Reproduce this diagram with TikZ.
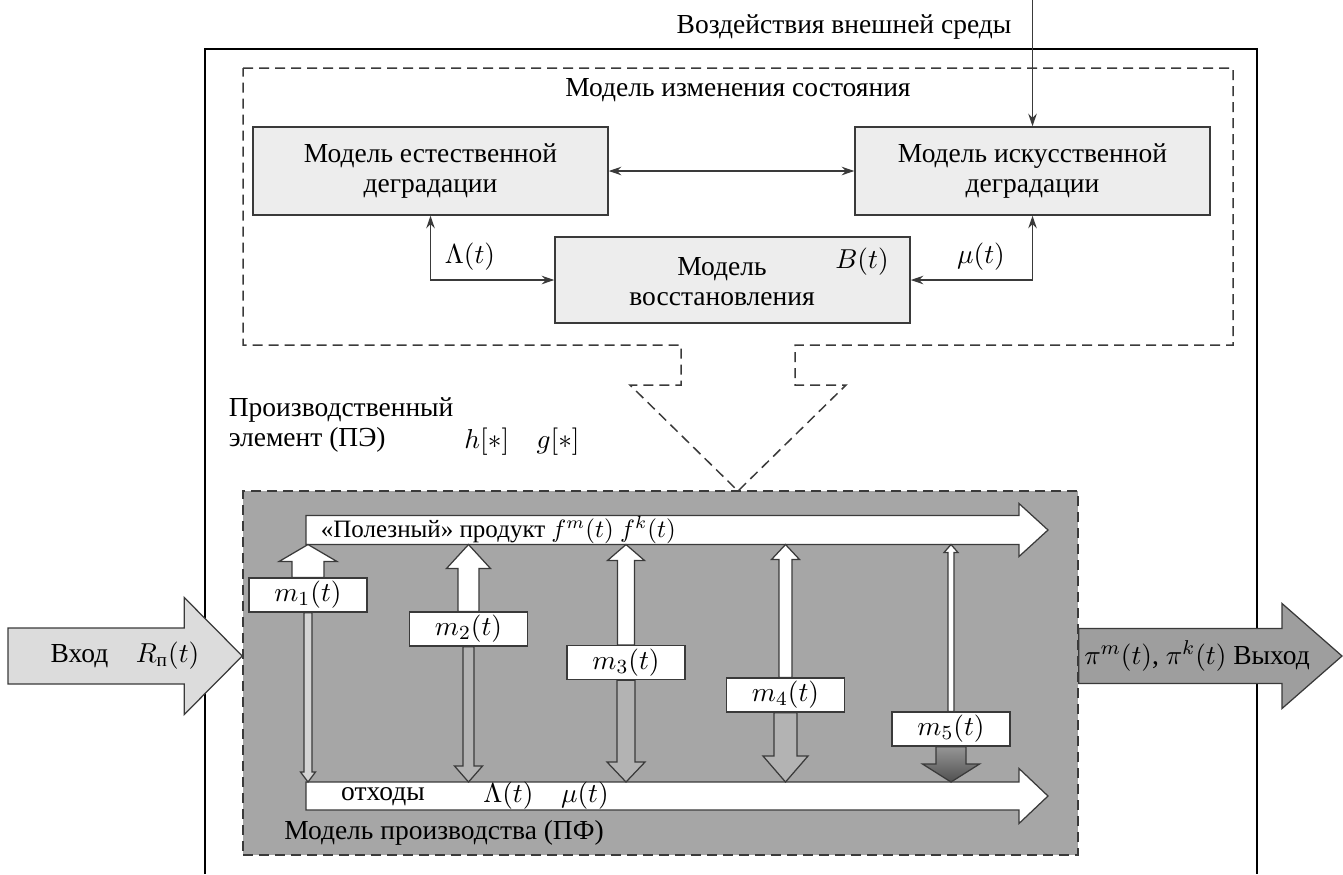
\documentclass[tikz,border=0pt]{standalone}
\usepackage{amsmath}
\usepackage[no-math]{fontspec}
\setmainfont{Liberation Serif}
\usetikzlibrary{arrows.meta,calc}
\definecolor{bord}{HTML}{3A3A3A}
\definecolor{boxgray}{HTML}{EDEDED}
\definecolor{prodgray}{HTML}{A6A6A6}
\definecolor{ingray}{HTML}{DCDCDC}
\definecolor{outgray}{HTML}{9E9E9E}
\definecolor{darr}{HTML}{B3B3B3}
\definecolor{lightarr}{HTML}{D4D4D4}
\definecolor{mfivetop}{HTML}{969696}
\definecolor{mfivebot}{HTML}{505050}
\newcommand{\hblk}[6]{%
  \path[#6] let \p1=(#1), \p2=(#2) in
    (\x1,\y2+#3*0.4pt) -- (\x2-#5*0.4pt,\y2+#3*0.4pt) -- (\x2-#5*0.4pt,\y2+#4*0.4pt) -- (\x2,\y2)
    -- (\x2-#5*0.4pt,\y2-#4*0.4pt) -- (\x2-#5*0.4pt,\y2-#3*0.4pt) -- (\x1,\y2-#3*0.4pt) -- cycle;}
\newcommand{\upblk}[6]{%
  \path[#6] let \p1=(#1), \p2=(#2) in
    (\x2-#3*0.4pt,\y1) -- (\x2-#3*0.4pt,\y2-#5*0.4pt) -- (\x2-#4*0.4pt,\y2-#5*0.4pt) -- (\x2,\y2)
    -- (\x2+#4*0.4pt,\y2-#5*0.4pt) -- (\x2+#3*0.4pt,\y2-#5*0.4pt) -- (\x2+#3*0.4pt,\y1) -- cycle;}
\newcommand{\dnblk}[6]{%
  \path[#6] let \p1=(#1), \p2=(#2) in
    (\x2-#3*0.4pt,\y1) -- (\x2-#3*0.4pt,\y2+#5*0.4pt) -- (\x2-#4*0.4pt,\y2+#5*0.4pt) -- (\x2,\y2)
    -- (\x2+#4*0.4pt,\y2+#5*0.4pt) -- (\x2+#3*0.4pt,\y2+#5*0.4pt) -- (\x2+#3*0.4pt,\y1) -- cycle;}
\begin{document}
\begin{tikzpicture}[x=0.4pt,y=-0.4pt,
  font=\fontsize{11}{12}\selectfont,
  >={Stealth[length=5pt,width=3.4pt]},
  upbox/.style={draw=bord, fill=boxgray, line width=0.6pt, minimum width=142pt,
    minimum height=35.2pt, align=center, inner sep=0pt},
  mbox/.style={draw=bord, fill=white, line width=0.5pt, minimum width=47.2pt,
    minimum height=13.6pt, inner sep=0pt},
  prodbox/.style={draw=bord, fill=prodgray, line width=0.6pt, dash pattern=on 4pt off 2.4pt,
    minimum width=334pt, minimum height=145.6pt, inner sep=0pt},
  conn/.style={draw=bord, line width=0.5pt},
  blk/.style={draw=bord, line width=0.5pt, line join=miter},
  dashline/.style={draw=bord, line width=0.6pt, dash pattern=on 4pt off 2.4pt},
  outer/.style={draw=black, line width=0.45pt}]
\useasboundingbox (0,0) rectangle (1343,874);

% outer element frame
\draw[outer] (205,874) -- (205,49) -- (1257,49) -- (1257,874);

% state change model region with funnel
\draw[dashline] (243,68) -- (1233,68) -- (1233,345) -- (795,345) -- (795,385) -- (846,385)
  -- (738,491) -- (630,385) -- (681,385) -- (681,345) -- (243,345) -- cycle;
\node (title) at (738,90) {Модель изменения состояния};

% upper models
\node[upbox] (nat) at (430.5,171) {Модель естественной\\деградации};
\node[upbox] (art) at (1032.5,171) {Модель искусственной\\деградации};
\node[upbox, minimum height=34.4pt] (rest) at (732.5,280) {};
\node[align=center] (resttxt) at (722,282) {Модель\\восстановления};
\node (bt) at (862,262) {$B(t)$};

\coordinate (envtop) at (1032.5,0);
\draw[conn,->] (envtop) -- (art.north);
\node (envlbl) at (844,27) {Воздействия внешней среды};
\draw[conn,<->] (nat.east) -- (art.west);
\draw[conn,<->] (nat.south) |- (rest.west);
\draw[conn,<->] (art.south) |- (rest.east);
\node (lam) at (470,257) {$\Lambda(t)$};
\node (mu) at (981,257) {$\mu(t)$};

% labels of production element
\node[anchor=west, align=left] (pelbl) at (220,425) {Производственный\\элемент (ПЭ)};
\node (hg) at (522,442) {$h[*]\quad g[*]$};

% production model
\node[prodbox] (prod) at (660.5,673) {};

\coordinate (ps) at (306,530);
\coordinate (pe) at (1048,530);
\coordinate (ws) at (306,796);
\coordinate (we) at (1048,796);
\coordinate (ptop) at (0,544.5);
\coordinate (wtop) at (0,782);
\hblk{ps}{pe}{14.5}{26.5}{29}{blk,fill=white}
\hblk{ws}{we}{14}{27.5}{29}{blk,fill=white}

\node[anchor=west, font=\fontsize{10}{12}\selectfont] (ptxt) at (312,530) {«Полезный» продукт $f^m(t)$ $f^k(t)$};
\node (wtxt) at (383,797) {отходы};
\node (wmath) at (546,796) {$\Lambda(t)\quad\mu(t)$};
\node (prodlbl) at (444,833) {Модель производства (ПФ)};

% m boxes
\node[mbox] (m1) at (308,595) {$m_1(t)$};
\node[mbox] (m2) at (468.5,629) {$m_2(t)$};
\node[mbox] (m3) at (626,662.5) {$m_3(t)$};
\node[mbox] (m4) at (785.5,695) {$m_4(t)$};
\node[mbox] (m5) at (951,729) {$m_5(t)$};

% useful flows
\upblk{m1.north}{m1.north |- ptop}{16}{29}{17}{blk,fill=white}
\upblk{m2.north}{m2.north |- ptop}{10.5}{22}{24}{blk,fill=white}
\upblk{m3.north}{m3.north |- ptop}{8.5}{18.5}{16}{blk,fill=white}
\upblk{m4.north}{m4.north |- ptop}{6.5}{14}{15}{blk,fill=white}
\upblk{m5.north}{m5.north |- ptop}{3}{7}{8}{blk,fill=white}
% waste flows
\dnblk{m1.south}{m1.south |- wtop}{4}{7.5}{10}{blk,fill=lightarr}
\dnblk{m2.south}{m2.south |- wtop}{5.5}{14}{16}{blk,fill=darr}
\dnblk{m3.south}{m3.south |- wtop}{9}{19}{20}{blk,fill=darr}
\dnblk{m4.south}{m4.south |- wtop}{11.5}{22.5}{26}{blk,fill=darr}
\dnblk{m5.south}{m5.south |- wtop}{15}{28.5}{18}{blk,top color=mfivetop,bottom color=mfivebot}

% input and output
\coordinate (ins) at (8,656);
\coordinate (outy) at (0,656);
\coordinate (outt) at (1342,656);
\hblk{ins}{prod.west |- ins}{28}{58.5}{58}{blk,fill=ingray}
\hblk{prod.east |- outy}{outt}{27.5}{52.5}{60}{blk,fill=outgray}
\node (intxt) at (125,656) {Вход\quad $R_{\text{п}}(t)$};
\node (outtxt) at (1197,656) {$\pi^m(t)$, $\pi^k(t)$ Выход};
\end{tikzpicture}
\end{document}
